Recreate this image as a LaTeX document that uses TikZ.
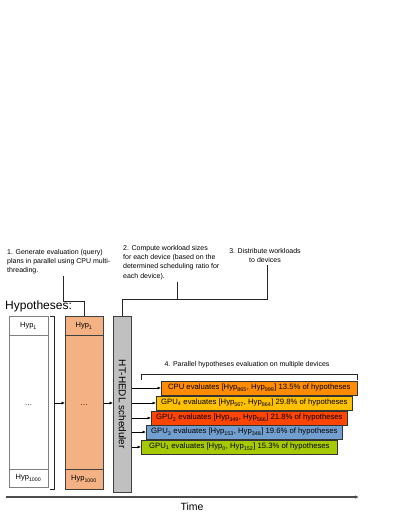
\documentclass[tikz,border=0pt]{standalone}
\usepackage{fontspec}
\setmainfont{Liberation Sans}
\usetikzlibrary{arrows.meta}
\definecolor{colorange}{RGB}{244,177,131}
\definecolor{schedgray}{RGB}{192,192,192}
\definecolor{cpuc}{RGB}{255,140,0}
\definecolor{gpufour}{RGB}{255,192,0}
\definecolor{gputwo}{RGB}{255,69,0}
\definecolor{gputhree}{RGB}{114,159,207}
\definecolor{gpuone}{RGB}{166,202,0}
\begin{document}
\begin{tikzpicture}[x=1pt,y=-1pt,
  note/.style={font=\fontsize{7}{9.3}\selectfont, inner sep=0pt, align=left},
  hypcell/.style={font=\fontsize{7.5}{9}\selectfont, inner sep=0pt},
  bar/.style={draw=black!80, line width=0.7pt, minimum width=196pt, minimum height=14pt, inner sep=0pt, font=\fontsize{7.7}{9}\selectfont, anchor=west},
  conn/.style={line width=0.8pt, black!85},
  arr/.style={-{Latex[length=3.5pt,width=3pt]}, line width=0.6pt, black}
]
\useasboundingbox (0,0) rectangle (399,516);

% annotation texts
\node[note, anchor=north west] (t1) at (7,249) {1. Generate evaluation (query)\\plans in parallel using CPU multi-\\threading.};
\node[note, anchor=north west] (t2) at (123,245) {2. Compute workload sizes\\for each device (based on the\\determined scheduling ratio for\\each device).};
\node[note, align=center, anchor=north] (t3) at (265,248) {3. Distribute workloads\\to devices};
\node[font=\fontsize{12}{14}\selectfont, inner sep=0pt, anchor=west] (hyp) at (5,306) {Hypotheses:};

% white column
\node[draw=black!50, line width=0.8pt, fill=white, minimum width=39pt, minimum height=171pt, inner sep=0pt, anchor=north west] (wcol) at (9,316) {};
\draw[draw=black!50, line width=0.8pt] (wcol.north west) ++(0,19) -- ++(39,0);
\draw[draw=black!50, line width=0.8pt] (wcol.south west) ++(0,-18) -- ++(39,0);
\node[hypcell] (w1) at (28.5,326) {Hyp\textsubscript{1}};
\node[hypcell] (wd) at (28.5,405) {\dots};
\node[hypcell] (wn) at (28.5,478) {Hyp\textsubscript{1000}};

% bracket
\coordinate (bt) at (50,316);
\coordinate (bb) at (50,489);
\draw[line width=0.9pt, black!85] (bt) -- ++(4,0) -- ++(0,173) -- (bb);
\coordinate (bm) at (54,403);

% orange column
\node[draw=black!75, line width=0.8pt, fill=colorange, minimum width=38pt, minimum height=173pt, inner sep=0pt, anchor=north west] (ocol) at (65,316) {};
\draw[draw=black!75, line width=0.8pt] (ocol.north west) ++(0,19) -- ++(38,0);
\draw[draw=black!75, line width=0.8pt] (ocol.south west) ++(0,-20) -- ++(38,0);
\node[hypcell] (o1) at (84,326) {Hyp\textsubscript{1}};
\node[hypcell] (od) at (84,405) {\dots};
\node[hypcell] (on) at (84,479) {Hyp\textsubscript{1000}};

% scheduler
\node[draw=black!75, line width=0.8pt, fill=schedgray, minimum width=18pt, minimum height=176pt, inner sep=0pt, anchor=north west] (sch) at (113,316) {};
\node[rotate=-90, font=\fontsize{10}{11}\selectfont, inner sep=0pt] (schtxt) at (sch.center) {HT-HEDL scheduler};

% arrows between columns
\draw[arr] (bm) -- (ocol.west |- bm);
\draw[arr] (ocol.east |- bm) -- (sch.west |- bm);

% connectors from annotations
\coordinate (c1) at (63,301);
\draw[conn] (63,276) -- (c1) -- (c1 -| ocol.north) -- (ocol.north);
\coordinate (c2) at (122,299);
\draw[conn] (sch.north -| c2) -- (c2) -- (267,299) -- (267,265);
\draw[conn] (177,282) -- (177,299);

% parallel evaluation
\node[note, anchor=center] (t4) at (247,365) {4. Parallel hypotheses evaluation on multiple devices};
\draw[conn] (141,380) -- (141,374) -- (357,374) -- (357,380);

\node[bar, fill=cpuc] (cpu) at (161,388) {CPU evaluates [Hyp\textsubscript{865}, Hyp\textsubscript{999}] 13.5\% of hypotheses};
\node[bar, fill=gpufour] (g4) at (156,403) {GPU\textsubscript{4} evaluates [Hyp\textsubscript{567}, Hyp\textsubscript{864}] 29.8\% of hypotheses};
\node[bar, fill=gputwo] (g2) at (151,418) {GPU\textsubscript{2} evaluates [Hyp\textsubscript{349}, Hyp\textsubscript{566}] 21.8\% of hypotheses};
\node[bar, fill=gputhree] (g3) at (146,432) {GPU\textsubscript{3} evaluates [Hyp\textsubscript{153}, Hyp\textsubscript{348}] 19.6\% of hypotheses};
\node[bar, fill=gpuone] (g1) at (141,447) {GPU\textsubscript{1} evaluates [Hyp\textsubscript{0}, Hyp\textsubscript{152}] 15.3\% of hypotheses};

\foreach \b in {cpu,g4,g2,g3,g1} {
  \draw[arr] (sch.east |- \b.west) -- (\b.west);
}

% time axis
\coordinate (ta) at (6,497);
\coordinate (tb) at (359,497);
\draw[-{Latex[length=4pt,width=3.5pt]}, line width=1.4pt, black!70] (ta) -- (tb);
\node[font=\fontsize{10.5}{12}\selectfont, inner sep=0pt] (time) at (192,507) {Time};
\end{tikzpicture}
\end{document}
